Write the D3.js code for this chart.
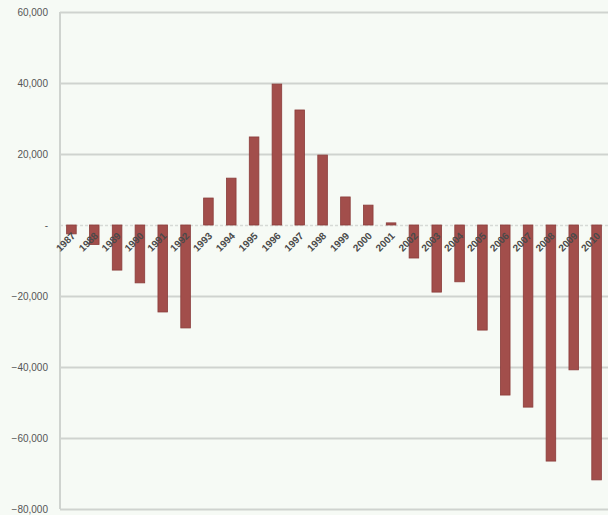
<!DOCTYPE html>
<html>
<head>
<meta charset="utf-8">
<script src="https://cdn.jsdelivr.net/npm/d3@7"></script>
<style>
  html, body { margin: 0; padding: 0; background: #f6faf5; }
  svg { display: block; }
</style>
</head>
<body>
<svg id="chart" width="608" height="515"></svg>
<script>
// Yearly balance, 1987–2010
const years = ["1987","1988","1989","1990","1991","1992","1993","1994","1995","1996","1997","1998",
               "1999","2000","2001","2002","2003","2004","2005","2006","2007","2008","2009","2010"];
const values = [-2500, -5500, -12700, -16300, -24500, -29000, 7600, 13200, 24800, 39700, 32400, 19700,
                7900, 5600, 600, -9300, -18900, -16000, -29600, -47900, -51300, -66500, -40800, -71800];
const yTicks = [60000, 40000, 20000, 0, -20000, -40000, -60000, -80000];

const svg = d3.select("#chart");
const margin = { left: 60, right: 0, top: 12, bottom: 6 };
const W = 608, H = 515;

const x = d3.scaleBand().domain(years).range([margin.left, W - margin.right]).paddingInner(0.58).paddingOuter(0.29);
const y = d3.scaleLinear().domain([-80000, 60000]).range([H - margin.bottom, margin.top]);

const fmt = v => v === 0 ? "-" : d3.format(",")(v);

// Horizontal gridlines with value labels
const yAxis = d3.axisLeft(y).tickValues(yTicks).tickFormat(fmt).tickSize(-(W - margin.left)).tickPadding(12);
const gy = svg.append("g").attr("transform", `translate(${margin.left},0)`).call(yAxis);
gy.select(".domain").remove();
gy.selectAll(".tick line").attr("stroke", "#cfd3cf").attr("stroke-width", 2);
gy.selectAll(".tick text").attr("fill", "#555").attr("font-family", "Liberation Sans, Arial, sans-serif").attr("font-size", 10);
gy.selectAll(".tick").filter(d => d === 0).select("line").attr("stroke", "#d6dad6").attr("stroke-dasharray", "3,2").attr("stroke-width", 1.5);

// Left vertical axis line
svg.append("line").attr("x1", margin.left).attr("x2", margin.left)
  .attr("y1", y(60000)).attr("y2", y(-80000)).attr("stroke", "#cfd3cf").attr("stroke-width", 2);

// Bars
svg.append("g").selectAll("rect").data(years).join("rect")
  .attr("x", d => x(d))
  .attr("width", x.bandwidth())
  .attr("y", (d, i) => y(Math.max(0, values[i])))
  .attr("height", (d, i) => Math.abs(y(values[i]) - y(0)))
  .attr("fill", "#a24e4b")
  .attr("stroke", "#8a3c3a")
  .attr("stroke-width", 0.8);

// Category labels, rotated, hanging below the zero line
svg.append("g").selectAll("text").data(years).join("text")
  .attr("transform", d => `translate(${x(d) + x.bandwidth() / 2 + 2},${y(0) + 9}) rotate(-45)`)
  .attr("text-anchor", "end")
  .attr("dy", "0.35em")
  .attr("fill", "#4a4a4a")
  .attr("font-family", "Liberation Sans, Arial, sans-serif")
  .attr("font-size", 10)
  .attr("font-weight", "bold")
  .text(d => d);
</script>
</body>
</html>
